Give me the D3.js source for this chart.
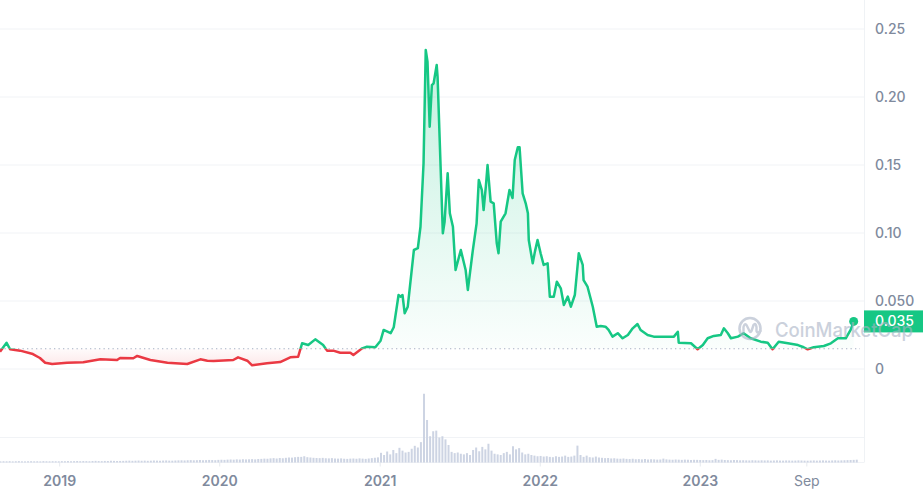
<!DOCTYPE html>
<html>
<head>
<meta charset="utf-8">
<script src="https://cdn.jsdelivr.net/npm/d3@7"></script>
<style>
  body { margin: 0; background: #fff; }
  svg { display: block; font-family: Inter, "Noto Sans", sans-serif; }
</style>
</head>
<body>
<svg id="chart" width="923" height="495"></svg>
<script>
// Price history (USD)
const priceDates = [
  "2018-08-19","2018-09-03","2018-09-11","2018-10-04","2018-11-02","2018-11-18","2018-11-30","2018-12-16",
  "2019-01-19","2019-02-25","2019-04-05","2019-05-13","2019-05-20","2019-06-19","2019-06-28","2019-07-28",
  "2019-09-05","2019-10-20","2019-11-19","2019-12-05","2019-12-19",
  "2020-02-02","2020-02-13","2020-03-05","2020-03-16","2020-04-19","2020-05-19","2020-06-11","2020-06-29",
  "2020-07-08","2020-07-22","2020-08-07","2020-08-25","2020-09-03","2020-09-17","2020-10-03","2020-10-26",
  "2020-11-02","2020-11-22","2020-12-03","2020-12-22",
  "2021-01-03","2021-01-10","2021-01-26","2021-02-02","2021-02-13","2021-02-18","2021-02-22","2021-02-27",
  "2021-03-06","2021-03-20","2021-03-29","2021-04-04","2021-04-11","2021-04-16","2021-04-20","2021-04-25",
  "2021-04-30","2021-05-04","2021-05-11","2021-05-13","2021-05-25","2021-05-29","2021-06-05","2021-06-10",
  "2021-06-17","2021-06-23","2021-07-05","2021-07-16","2021-07-21","2021-08-01","2021-08-10","2021-08-15",
  "2021-08-22","2021-08-26","2021-08-31","2021-09-04","2021-09-11","2021-09-18","2021-09-25","2021-09-29",
  "2021-10-04","2021-10-15","2021-10-24","2021-10-31","2021-11-05","2021-11-12","2021-11-16","2021-11-23",
  "2021-11-30","2021-12-05","2021-12-07","2021-12-16","2021-12-21","2021-12-27",
  "2022-01-03","2022-01-10","2022-01-19","2022-01-24","2022-02-02","2022-02-09","2022-02-18","2022-02-25",
  "2022-03-06","2022-03-13","2022-03-22","2022-03-31","2022-04-09","2022-04-11","2022-04-20","2022-05-02",
  "2022-05-11","2022-05-20","2022-05-31","2022-06-07","2022-06-16","2022-06-28","2022-07-09","2022-07-21",
  "2022-08-01","2022-08-12","2022-08-19","2022-09-04","2022-09-18","2022-10-11","2022-11-03","2022-11-12",
  "2022-11-14","2022-12-12","2022-12-27",
  "2023-01-08","2023-01-19","2023-02-02","2023-02-18","2023-02-25","2023-03-06","2023-03-13","2023-03-29",
  "2023-04-11","2023-04-27","2023-05-20","2023-06-05","2023-06-16","2023-06-30","2023-07-21","2023-08-13",
  "2023-08-26","2023-09-04","2023-09-18","2023-10-11","2023-10-27","2023-11-12","2023-11-30","2023-12-11",
  "2023-12-18"
];
const priceValues = [
  0.0127,0.0193,0.0145,0.0135,0.0110,0.0081,0.0046,0.0037,
  0.0046,0.0049,0.0071,0.0066,0.0081,0.0079,0.0096,0.0066,
  0.0046,0.0037,0.0071,0.0061,0.0059,
  0.0066,0.0086,0.0061,0.0027,0.0042,0.0051,0.0086,0.0090,
  0.0189,0.0176,0.0218,0.0176,0.0135,0.0135,0.0120,0.0120,
  0.0103,0.0152,0.0164,0.0160,
  0.0208,0.0287,0.0263,0.0307,0.0544,0.0532,0.0544,0.0410,
  0.0458,0.0875,0.0888,0.1046,0.1513,0.2346,0.2260,0.1782,
  0.2088,0.2101,0.2235,0.2149,0.0998,0.1083,0.1439,0.1145,
  0.1046,0.0728,0.0875,0.0728,0.0581,0.0863,0.1071,0.1390,
  0.1316,0.1169,0.1340,0.1500,0.1230,0.1218,0.0924,0.0851,
  0.1083,0.1145,0.1316,0.1257,0.1537,0.1630,0.1630,0.1292,
  0.1218,0.1145,0.0949,0.0777,0.0863,0.0949,
  0.0851,0.0765,0.0777,0.0532,0.0532,0.0642,0.0593,0.0471,
  0.0532,0.0458,0.0544,0.0851,0.0765,0.0654,0.0605,0.0458,
  0.0311,0.0316,0.0311,0.0287,0.0238,0.0263,0.0226,0.0250,
  0.0299,0.0331,0.0287,0.0250,0.0238,0.0238,0.0238,0.0274,
  0.0193,0.0189,0.0145,
  0.0176,0.0226,0.0243,0.0250,0.0299,0.0263,0.0226,0.0238,
  0.0263,0.0226,0.0201,0.0193,0.0145,0.0201,0.0189,0.0176,
  0.0160,0.0145,0.0160,0.0169,0.0189,0.0226,0.0226,0.0287,
  0.0350
];
const baselinePrice = 0.0149;
const lastPriceLabel = "0.035";

// Axis ticks
const yTicks = [0, 0.05, 0.10, 0.15, 0.20, 0.25];
const yTickLabels = ["0", "0.050", "0.10", "0.15", "0.20", "0.25"];
const xTicks = ["2019-01-01", "2020-01-01", "2021-01-01", "2022-01-01", "2023-01-01", "2023-09-01"];
const xTickLabels = ["2019", "2020", "2021", "2022", "2023", "Sep"];

// Weekly volume (millions USD), one value per week from volumeStart
const volumeStart = "2018-08-20";
const volumeWeekly = [
  18,20,19,21,18,20,22,19,18,20,21,19,20,18,22,20,19,21,20,19,
  22,21,23,20,22,24,21,23,22,20,24,26,23,22,25,24,28,26,24,25,
  26,28,30,27,29,31,28,30,27,29,32,30,28,31,33,30,29,32,34,
  35,33,36,38,35,37,40,36,38,41,39,37,42,
  44,42,46,48,45,50,47,52,49,51,54,50,56,
  58,62,60,66,70,64,72,68,75,80,78,85,90,
  90,100,85,80,75,72,70,74,68,66,70,64,62,66,60,58,62,64,60,66,62,58,64,70,76,82,
  155,120,176,130,200,150,235,190,160,170,220,267,240,
  326,1100,680,420,500,510,400,420,370,
  280,170,150,160,140,130,150,120,200,240,180,250,210,300,190,140,130,
  120,150,170,130,260,210,230,160,130,140,120,110,100,
  105,95,100,90,85,100,90,95,110,90,95,110,270,120,90,110,85,80,95,80,
  75,70,72,65,68,62,60,64,58,55,60,52,54,50,56,48,52,50,46,48,62,50,46,44,48,45,42,46,44,40,43,42,40,
  38,40,36,38,58,42,46,40,38,36,40,38,35,36,34,33,36,34,32,35,
  33,34,30,32,34,31,30,33,32,30,31,34,32,30,29,31,33,30,32,34,
  31,30,33,35,32,34,36,38,40,42,45
];
const volumeGrid = [400];

// Colours
const upColor = "#16c784";
const downColor = "#ea3943";
const gridColor = "#f1f3f6";
const labelColor = "#808a9d";

// Layout
const plotRight = 864;
const parse = d3.timeParse("%Y-%m-%d");

const prices = priceDates.map((d, i) => ({ date: parse(d), value: priceValues[i] }));
const volStartDate = parse(volumeStart);
const volumes = volumeWeekly.map((v, i) => ({ date: d3.timeDay.offset(volStartDate, i * 7), value: v }));

const x = d3.scaleTime().domain([parse("2018-08-19"), parse("2024-01-06")]).range([0, 862]);
const y = d3.scaleLinear().domain([0, 0.25]).range([369, 29]);
const yVol = d3.scaleLinear().domain([0, 1200]).range([462.5, 387.5]);
const yBase = y(baselinePrice);

const svg = d3.select("#chart");
const defs = svg.append("defs");

// Gradients for the areas
const gUp = defs.append("linearGradient").attr("id", "gradUp")
  .attr("gradientUnits", "userSpaceOnUse").attr("x1", 0).attr("x2", 0)
  .attr("y1", y(0.235)).attr("y2", yBase);
gUp.append("stop").attr("offset", "0%").attr("stop-color", upColor).attr("stop-opacity", 0.26);
gUp.append("stop").attr("offset", "100%").attr("stop-color", upColor).attr("stop-opacity", 0.02);

const gDown = defs.append("linearGradient").attr("id", "gradDown")
  .attr("gradientUnits", "userSpaceOnUse").attr("x1", 0).attr("x2", 0)
  .attr("y1", yBase).attr("y2", y(0.002));
gDown.append("stop").attr("offset", "0%").attr("stop-color", downColor).attr("stop-opacity", 0.02);
gDown.append("stop").attr("offset", "100%").attr("stop-color", downColor).attr("stop-opacity", 0.12);

// Clip regions above / below the baseline price
defs.append("clipPath").attr("id", "clipUp")
  .append("rect").attr("x", -5).attr("y", 0).attr("width", 880).attr("height", yBase);
defs.append("clipPath").attr("id", "clipDown")
  .append("rect").attr("x", -5).attr("y", yBase).attr("width", 880).attr("height", 30);

// Horizontal grid lines (price)
svg.append("g").selectAll("line")
  .data(yTicks)
  .join("line")
  .attr("x1", 0).attr("x2", plotRight)
  .attr("y1", d => y(d)).attr("y2", d => y(d))
  .attr("stroke", gridColor).attr("stroke-width", 1);

// Volume grid + baseline
svg.append("g").selectAll("line")
  .data(volumeGrid.concat([0]))
  .join("line")
  .attr("x1", 0).attr("x2", plotRight)
  .attr("y1", d => yVol(d)).attr("y2", d => yVol(d))
  .attr("stroke", gridColor).attr("stroke-width", 1);

// Right border line
svg.append("line")
  .attr("x1", plotRight + 0.5).attr("x2", plotRight + 0.5)
  .attr("y1", 0).attr("y2", yVol(0))
  .attr("stroke", "#eff2f5").attr("stroke-width", 1);

// Small year ticks under volume
svg.append("g").selectAll("line")
  .data(xTicks)
  .join("line")
  .attr("x1", d => x(parse(d)) + 0.5).attr("x2", d => x(parse(d)) + 0.5)
  .attr("y1", yVol(0)).attr("y2", yVol(0) + 4)
  .attr("stroke", "#e6e9ee");

// Volume bars
svg.append("g").selectAll("rect")
  .data(volumes)
  .join("rect")
  .attr("x", d => x(d.date) - 1)
  .attr("y", d => yVol(d.value))
  .attr("width", 2)
  .attr("height", d => yVol(0) - yVol(d.value))
  .attr("fill", "#cdd4e3");

// Price areas
const area = d3.area().x(d => x(d.date)).y0(yBase).y1(d => y(d.value));
svg.append("path").datum(prices).attr("d", area)
  .attr("fill", "url(#gradUp)").attr("clip-path", "url(#clipUp)");
svg.append("path").datum(prices).attr("d", area)
  .attr("fill", "url(#gradDown)").attr("clip-path", "url(#clipDown)");

// Dotted baseline
svg.append("line")
  .attr("x1", 0).attr("x2", 860)
  .attr("y1", yBase).attr("y2", yBase)
  .attr("stroke", "#a6b0c3").attr("stroke-width", 1.2)
  .attr("stroke-dasharray", "1.3,3.2");

// Price line, green above baseline, red below
const line = d3.line().x(d => x(d.date)).y(d => y(d.value));
svg.append("path").datum(prices).attr("d", line)
  .attr("fill", "none").attr("stroke", upColor).attr("stroke-width", 2.5)
  .attr("stroke-linejoin", "round").attr("clip-path", "url(#clipUp)");
svg.append("path").datum(prices).attr("d", line)
  .attr("fill", "none").attr("stroke", downColor).attr("stroke-width", 2.5)
  .attr("stroke-linejoin", "round").attr("clip-path", "url(#clipDown)");

// Last price marker
const last = prices[prices.length - 1];
svg.append("circle")
  .attr("cx", x(last.date)).attr("cy", y(last.value)).attr("r", 4.5)
  .attr("fill", upColor);

// Y axis (right)
svg.append("g")
  .attr("transform", `translate(${plotRight},0)`)
  .call(d3.axisRight(y).tickValues(yTicks).tickFormat((d, i) => yTickLabels[i]).tickSize(0).tickPadding(11))
  .call(g => g.select(".domain").remove())
  .selectAll("text")
  .attr("fill", labelColor)
  .style("font-family", "Inter, sans-serif")
  .style("font-size", "14px")
  .style("font-weight", 500);

// Last price tag
svg.append("rect")
  .attr("x", plotRight).attr("y", y(last.value) - 11)
  .attr("width", 923 - plotRight).attr("height", 22)
  .attr("fill", upColor);
svg.append("text")
  .attr("x", plotRight + 11).attr("y", y(last.value))
  .attr("dy", "0.35em")
  .attr("fill", "#fff")
  .style("font-size", "14px").style("font-weight", 500)
  .text(lastPriceLabel);

// Watermark (drawn on top, as in the original)
const wm = svg.append("g").attr("opacity", 0.6);
wm.append("circle").attr("cx", 750).attr("cy", 328.5).attr("r", 10.5)
  .attr("fill", "none").attr("stroke", "#a9b3c6").attr("stroke-width", 2.6);
wm.append("path")
  .attr("d", "M743.5,333 L743.5,327 Q744.5,323 746.5,325 L749.5,331 Q750.5,333 751.5,331 L753.5,325 Q755.5,322 756.5,327 L756.5,331 Q757.5,334 760.5,331")
  .attr("fill", "none").attr("stroke", "#a9b3c6").attr("stroke-width", 2.4)
  .attr("stroke-linecap", "round").attr("stroke-linejoin", "round");
wm.append("text").attr("x", 775).attr("y", 336.5)
  .attr("fill", "#a9b3c6").style("font-size", "20px").style("font-weight", 500)
  .attr("textLength", 138).attr("lengthAdjust", "spacingAndGlyphs")
  .text("CoinMarketCap");

// X axis
svg.append("g")
  .attr("transform", "translate(0,466)")
  .call(d3.axisBottom(x).tickValues(xTicks.map(parse)).tickFormat((d, i) => xTickLabels[i]).tickSize(0).tickPadding(10))
  .call(g => g.select(".domain").remove())
  .selectAll("text")
  .attr("fill", labelColor)
  .style("font-family", "Inter, sans-serif")
  .style("font-size", "14px")
  .style("font-weight", (d, i) => xTickLabels[i] === "Sep" ? 400 : 600);
</script>
</body>
</html>
